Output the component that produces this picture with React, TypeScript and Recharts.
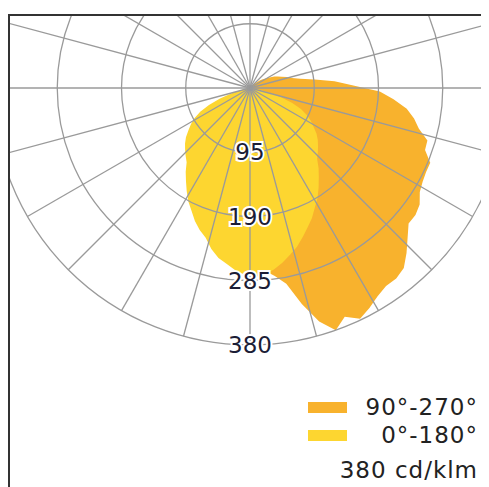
import { RadarChart, Radar, PolarGrid, PolarAngleAxis, PolarRadiusAxis, Legend } from 'recharts';

// gamma angle in 3° steps, measured from nadir (straight down) toward the right
const gammaAngles = Array.from({ length: 120 }, (_, i) => i * 3);

// C90-C270 plane, cd/klm
const plane90Values = [
  265, 272, 282, 296, 330, 362, 382, 368, 380, 372, 363, 357, 357, 352, 338,
  323, 310, 310, 306, 296, 292, 290, 290, 276, 275, 258, 248, 235, 214, 193,
  152, 126, 97, 76, 64, 57, 50, 45, 40, 33, 27, 23, 19, 14, 9,
  5, 2, 0, 0, 0, 0, 0, 0, 0, 0, 0, 0, 0, 0, 0,
  0, 0, 0, 0, 0, 0, 0, 0, 0, 0, 0, 0, 0, 0, 0,
  0, 0, 0, 0, 0, 0, 0, 0, 0, 0, 0, 0, 0, 0, 0,
  0, 0, 0, 0, 0, 0, 0, 0, 0, 0, 0, 0, 0, 0, 0,
  0, 0, 0, 0, 0, 0, 3, 12, 35, 70, 110, 150, 190, 225, 250,
];

// C0-C180 plane, cd/klm
const plane0Values = [
  281, 278, 272, 264, 255, 246, 235, 224, 214, 202, 192, 180, 168, 157, 145,
  139, 133, 127, 120, 111, 103, 94, 82, 66, 48, 30, 15, 6, 2, 0,
  0, 0, 0, 0, 0, 0, 0, 0, 0, 0, 0, 0, 0, 0, 0,
  0, 0, 0, 0, 0, 0, 0, 0, 0, 0, 0, 0, 0, 0, 0,
  0, 0, 0, 0, 0, 0, 0, 0, 0, 0, 0, 0, 0, 0, 0,
  0, 0, 0, 0, 0, 0, 0, 0, 0, 0, 0, 0, 0, 0, 0,
  0, 0, 2, 6, 15, 30, 48, 66, 82, 94, 103, 111, 120, 127, 133,
  139, 145, 157, 168, 180, 192, 202, 214, 224, 232, 246, 257, 264, 272, 278,
];

const ringTicks = [95, 190, 285, 380];
const spokeAngles = Array.from({ length: 24 }, (_, i) => i * 15);
const seriesNames = ['90°-270°', '0°-180°'];
const unitLabel = '380 cd/klm';

const data = gammaAngles.map((g, i) => ({
  gamma: g,
  c90: plane90Values[i],
  c0: plane0Values[i],
}));

const FONT = '"DejaVu Sans", sans-serif';

// same polar frame for both layers; the category axis puts points in the
// middle of each 3° band, so the range is shifted back by half a band
const polarProps = {
  width: 479,
  height: 471,
  data,
  cx: 240,
  cy: 72,
  outerRadius: 257,
  startAngle: -91.5,
  endAngle: 268.5,
  margin: { top: 0, right: 0, bottom: 0, left: 0 },
};

const RingLabel = (props: any) => {
  const { x, y, payload } = props;
  return (
    <text
      x={x}
      y={y}
      textAnchor="middle"
      dominantBaseline="central"
      fontFamily={FONT}
      fontSize={23}
      fill="#1b1d36"
      stroke="#fff"
      strokeWidth={4}
      paintOrder="stroke"
    >
      {payload.value}
    </text>
  );
};

const LegendBox = ({ payload }: any) => {
  const items = seriesNames
    .map((n) => (payload || []).find((p: any) => p.value === n))
    .filter(Boolean);
  return (
    <div style={{ fontFamily: FONT, fontSize: 23, color: '#222', width: 170, letterSpacing: 1 }}>
      {items.map((entry: any) => (
        <div key={entry.value} style={{ display: 'flex', alignItems: 'center', height: 28 }}>
          <span style={{ width: 39, height: 11, background: entry.color, display: 'inline-block' }} />
          <span style={{ flex: 1, textAlign: 'right' }}>{entry.value}</span>
        </div>
      ))}
      <div style={{ textAlign: 'right', height: 28, lineHeight: '28px', marginTop: 7 }}>{unitLabel}</div>
    </div>
  );
};

export default function App() {
  return (
    <div style={{ position: 'relative', width: 481, height: 479 }}>
      <div style={{ position: 'absolute', left: 0, top: 6, width: 481, height: 2, background: '#333' }} />
      <div style={{ position: 'absolute', left: 0, top: 6, width: 2, height: 473, background: '#333' }} />
      {/* bottom layer: the two planes */}
      <div style={{ position: 'absolute', left: 2, top: 8 }}>
        <RadarChart {...polarProps}>
          <PolarAngleAxis dataKey="gamma" tick={false} axisLine={false} />
          <PolarRadiusAxis angle={-90} domain={[0, 380]} ticks={ringTicks} axisLine={false} tick={false} />
          <Radar
            name={seriesNames[0]}
            dataKey="c90"
            fill="#f8b22d"
            fillOpacity={1}
            stroke="none"
            dot={false}
            isAnimationActive={false}
          />
          <Radar
            name={seriesNames[1]}
            dataKey="c0"
            fill="#fdd630"
            fillOpacity={1}
            stroke="none"
            dot={false}
            isAnimationActive={false}
          />
          <Legend content={<LegendBox />} wrapperStyle={{ left: 298, top: 377, width: 170, bottom: 'auto' }} />
        </RadarChart>
      </div>
      {/* top layer: grid and ring labels over the fills */}
      <div style={{ position: 'absolute', left: 2, top: 8 }}>
        <RadarChart {...polarProps}>
          <PolarAngleAxis dataKey="gamma" tick={false} axisLine={false} />
          <PolarRadiusAxis
            angle={-90}
            domain={[0, 380]}
            ticks={ringTicks}
            axisLine={false}
            tick={<RingLabel />}
          />
          <Radar
            dataKey="c0"
            fill="none"
            fillOpacity={0}
            stroke="none"
            dot={false}
            legendType="none"
            isAnimationActive={false}
          />
          <PolarGrid gridType="circle" polarAngles={spokeAngles} stroke="#9a9a9a" strokeWidth={1.3} />
        </RadarChart>
      </div>
    </div>
  );
}
